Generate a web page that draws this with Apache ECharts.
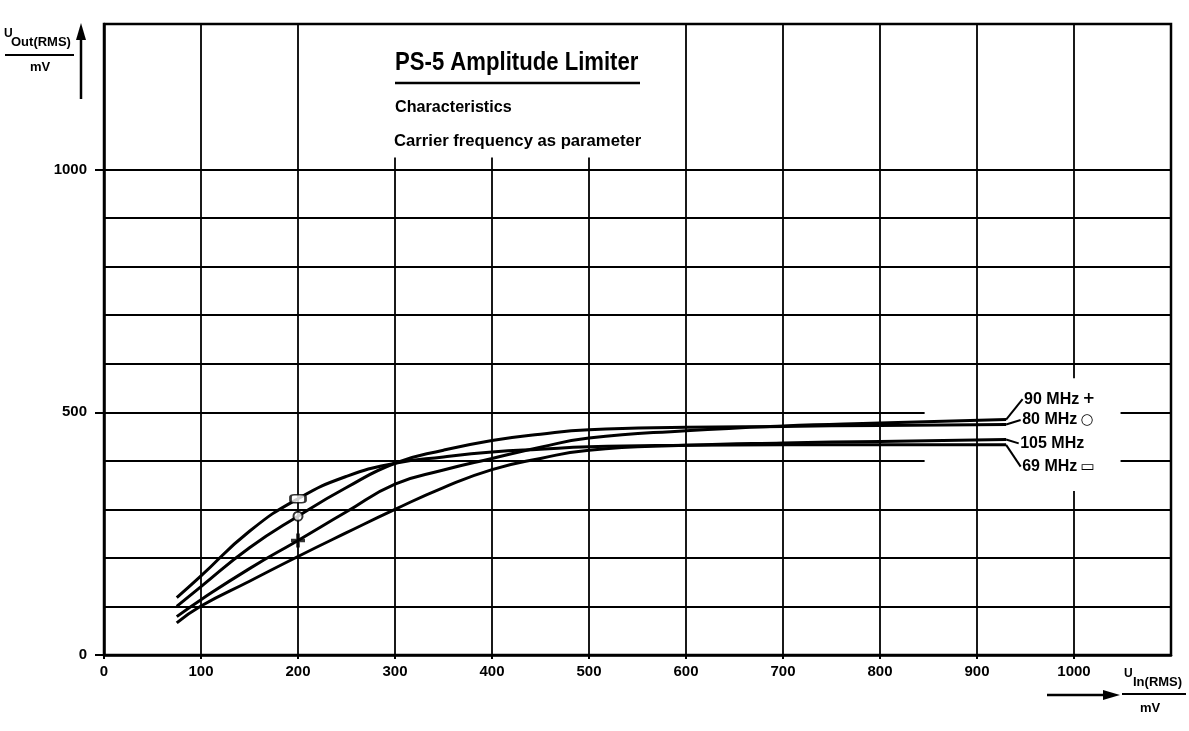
<!DOCTYPE html>
<html>
<head>
<meta charset="utf-8">
<title>PS-5 Amplitude Limiter</title>
<script src="https://cdn.jsdelivr.net/npm/echarts@6/dist/echarts.min.js"></script>
<style>
  html, body { margin: 0; padding: 0; background: #fff; }
  #myChart { width: 1189px; height: 731px; }
</style>
</head>
<body>
<div id="myChart"></div>
<script>
const uIn = [75, 100, 150, 200, 250, 300, 350, 400, 450, 500, 600, 700, 800, 930];
// U_out (mV) for each carrier frequency
const out90 = [79, 114, 178, 236, 295, 352, 381, 405, 428, 447, 462, 472, 478, 485];
const out80 = [100, 141, 221, 286, 345, 395, 422, 442, 455, 464, 469, 471, 473, 475];
const out105 = [66, 101, 152, 203, 252, 300, 345, 382, 405, 422, 432, 437, 440, 444];
const out69 = [118, 163, 255, 322, 368, 395, 408, 418, 424, 429, 432, 433, 433, 433];
const freqNames = ['90 MHz', '80 MHz', '105 MHz', '69 MHz'];
const freqSymbols = ['+', '○', '', '▭'];
// the point markers all sit at this input voltage
const markerIn = 200;
// tick labels
const xTicks = [0, 100, 200, 300, 400, 500, 600, 700, 800, 900, 1000];
const yTicks = [0, 500, 1000];
// grid lines
const gridX = [100, 200, 300, 400, 500, 600, 700, 800, 900, 1000];
const gridY = [100, 200, 300, 400, 500, 600, 700, 800, 900, 1000];
// ends of the leader lines (where the frequency labels start)
const labelIn = [947, 945, 943, 945];
const labelOut = [527, 484, 436, 388];

const FONT = '"Liberation Sans", Arial, sans-serif';

var myChart = echarts.init(document.getElementById('myChart'));

// grid segments, the ones behind the title and the labels are cut
var segs = [];
gridX.forEach(function (x) {
  if (x >= 300 && x <= 500) {
    segs.push([{ coord: [x, 0] }, { coord: [x, 1025] }]);
  } else if (x === 1000) {
    segs.push([{ coord: [x, 0] }, { coord: [x, 338] }]);
    segs.push([{ coord: [x, 570] }, { coord: [x, 1300] }]);
  } else {
    segs.push([{ coord: [x, 0] }, { coord: [x, 1300] }]);
  }
});
gridY.forEach(function (y) {
  if (y === 400 || y === 500) {
    segs.push([{ coord: [0, y] }, { coord: [846, y] }]);
    segs.push([{ coord: [1048, y] }, { coord: [1100, y] }]);
  } else {
    segs.push([{ coord: [0, y] }, { coord: [1100, y] }]);
  }
});

var curves = [out90, out80, out105, out69];
var markerSym = [
  'path://M3.7,0H6.3V3.7H10V6.3H6.3V10H3.7V6.3H0V3.7H3.7Z',
  'circle',
  null,
  'roundRect'
];
var markerSize = [14, 9, 0, [15, 8]];
var mi = uIn.indexOf(markerIn);
var last = uIn.length - 1;

var series = [{
  name: 'grid',
  type: 'line',
  data: [],
  silent: true,
  markLine: {
    silent: true,
    symbol: ['none', 'none'],
    label: { show: false },
    lineStyle: { type: 'solid', color: '#000', width: 1.8 },
    data: segs
  }
}];

curves.forEach(function (c, i) {
  series.push({
    name: freqNames[i],
    type: 'line',
    data: uIn.map(function (x, j) { return [x, c[j]]; }),
    symbol: 'none',
    smooth: 0.5,
    lineStyle: { color: '#000', width: 3 },
    z: 3,
    markLine: {
      silent: true,
      symbol: ['none', 'none'],
      label: { show: false },
      lineStyle: { type: 'solid', color: '#000', width: 2 },
      data: [[{ coord: [uIn[last], c[last]] }, { coord: [labelIn[i], labelOut[i]] }]]
    },
    markPoint: {
      symbol: 'circle',
      symbolSize: 1,
      itemStyle: { color: 'transparent' },
      label: {
        show: true,
        position: 'right',
        distance: 1,
        formatter: '{t|' + freqNames[i] + '}' + (freqSymbols[i] ? ' {s|' + freqSymbols[i] + '}' : ''),
        rich: {
          t: { fontFamily: FONT, fontWeight: 'bold', fontSize: 16, color: '#000' },
          s: { fontFamily: 'DejaVu Sans', fontWeight: 'bold', fontSize: 15, color: '#000' }
        }
      },
      data: [{ coord: [labelIn[i], labelOut[i]] }]
    }
  });
  if (markerSym[i]) {
    series.push({
      name: freqNames[i] + ' marker',
      type: 'scatter',
      data: [[markerIn, c[mi]]],
      symbol: markerSym[i],
      symbolSize: markerSize[i],
      z: 5,
      itemStyle: i === 0
        ? { color: '#000' }
        : { color: '#fff', borderColor: '#000', borderWidth: 2 }
    });
  }
});

function plain(v) { return String(v); }

myChart.setOption({
  animation: false,
  backgroundColor: '#fff',
  grid: {
    left: 104, right: 18, top: 24, bottom: 76,
    show: true, borderColor: '#000', borderWidth: 2.5
  },
  xAxis: {
    type: 'value',
    min: 0, max: 1100, interval: 100,
    axisLine: { show: true, lineStyle: { color: '#000', width: 2.5 } },
    axisTick: { show: true, customValues: xTicks, length: 4, lineStyle: { color: '#000', width: 2 } },
    axisLabel: {
      customValues: xTicks, margin: 9, formatter: plain,
      color: '#000', fontFamily: FONT, fontWeight: 'bold', fontSize: 15
    },
    splitLine: { show: false }
  },
  yAxis: {
    type: 'value',
    min: 0, max: 1300, interval: 100,
    axisLine: { show: true, lineStyle: { color: '#000', width: 2.5 } },
    axisTick: { show: true, customValues: yTicks, length: 9, lineStyle: { color: '#000', width: 2 } },
    axisLabel: {
      customValues: yTicks, margin: 17, formatter: plain,
      color: '#000', fontFamily: FONT, fontWeight: 'bold', fontSize: 15
    },
    splitLine: { show: false }
  },
  graphic: [
    // title block
    { type: 'text', x: 395, y: 63, scaleX: 0.885, style: { text: 'PS-5 Amplitude Limiter', fontFamily: FONT, fontWeight: 'bold', fontSize: 25, fill: '#000', verticalAlign: 'middle' } },
    { type: 'line', shape: { x1: 395, y1: 83, x2: 640, y2: 83 }, style: { stroke: '#000', lineWidth: 2.5 } },
    { type: 'text', x: 395, y: 107, scaleX: 0.95, style: { text: 'Characteristics', fontFamily: FONT, fontWeight: 'bold', fontSize: 17, fill: '#000', verticalAlign: 'middle' } },
    { type: 'text', x: 394, y: 141, scaleX: 0.98, style: { text: 'Carrier frequency as parameter', fontFamily: FONT, fontWeight: 'bold', fontSize: 17, fill: '#000', verticalAlign: 'middle' } },
    // y axis name
    { type: 'text', x: 4, y: 34, style: { text: 'U', fontFamily: FONT, fontWeight: 'bold', fontSize: 12, fill: '#000', verticalAlign: 'middle' } },
    { type: 'text', x: 11, y: 42, style: { text: 'Out(RMS)', fontFamily: FONT, fontWeight: 'bold', fontSize: 13, fill: '#000', verticalAlign: 'middle' } },
    { type: 'line', shape: { x1: 5, y1: 55, x2: 74, y2: 55 }, style: { stroke: '#000', lineWidth: 2 } },
    { type: 'text', x: 40, y: 67, style: { text: 'mV', fontFamily: FONT, fontWeight: 'bold', fontSize: 13, fill: '#000', align: 'center', verticalAlign: 'middle' } },
    { type: 'line', shape: { x1: 81, y1: 99, x2: 81, y2: 34 }, style: { stroke: '#000', lineWidth: 2.5 } },
    { type: 'polygon', shape: { points: [[81, 23], [76, 40], [86, 40]] }, style: { fill: '#000' } },
    // x axis name
    { type: 'line', shape: { x1: 1047, y1: 695, x2: 1106, y2: 695 }, style: { stroke: '#000', lineWidth: 2.5 } },
    { type: 'polygon', shape: { points: [[1120, 695], [1103, 690], [1103, 700]] }, style: { fill: '#000' } },
    { type: 'text', x: 1124, y: 674, style: { text: 'U', fontFamily: FONT, fontWeight: 'bold', fontSize: 12, fill: '#000', verticalAlign: 'middle' } },
    { type: 'text', x: 1133, y: 682, style: { text: 'In(RMS)', fontFamily: FONT, fontWeight: 'bold', fontSize: 13, fill: '#000', verticalAlign: 'middle' } },
    { type: 'line', shape: { x1: 1122, y1: 694, x2: 1186, y2: 694 }, style: { stroke: '#000', lineWidth: 2 } },
    { type: 'text', x: 1150, y: 708, style: { text: 'mV', fontFamily: FONT, fontWeight: 'bold', fontSize: 13, fill: '#000', align: 'center', verticalAlign: 'middle' } }
  ],
  series: series
});
</script>
</body>
</html>
